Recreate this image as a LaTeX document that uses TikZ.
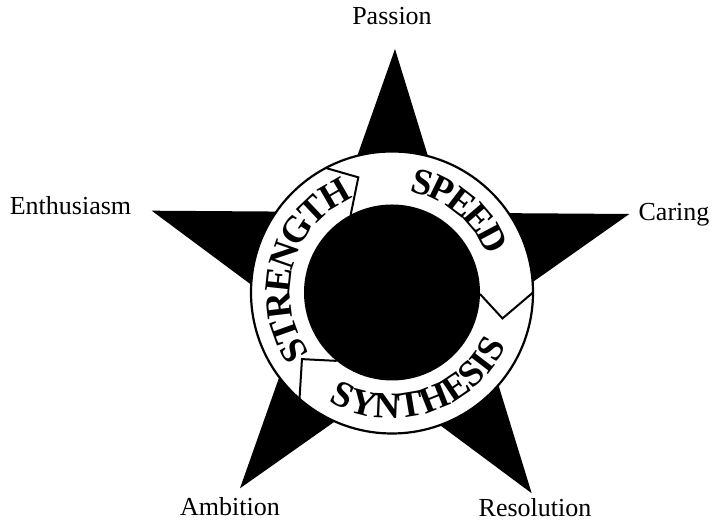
\documentclass[tikz,border=0pt]{standalone}
\usepackage{fontspec}
\setmainfont{Liberation Serif}
\begin{document}
\begin{tikzpicture}[x=1pt,y=1pt,
  lbl/.style={font=\fontsize{26}{30}\selectfont, anchor=base, inner sep=0},
  ringtxt/.style={font=\fontsize{37}{40}\selectfont\bfseries, inner sep=0, anchor=center},
  divider/.style={draw=black, line width=2, line join=miter}]
\fill[white] (0,0) rectangle (715,524);
\useasboundingbox (0,0) rectangle (715,524);
% centre of the ring
\coordinate (C) at (392,231.5);
% star tips
\coordinate (T) at (395,475);
\coordinate (L) at (151.7,313.3);
\coordinate (R) at (629.3,310);
\coordinate (BL) at (240,35.7);
\coordinate (BR) at (531.7,30.7);
% star
\fill[black] (T) -- (intersection of T--BR and L--R) -- (R)
  -- (intersection of R--BL and T--BR) -- (BR)
  -- (intersection of BR--L and R--BL) -- (BL)
  -- (intersection of BL--T and BR--L) -- (L)
  -- (intersection of L--R and BL--T) -- cycle;
% ring
\draw[fill=white, line width=2.2] (C) circle[radius=141];
\fill[black] (C) circle[radius=88];
% dividers (chevrons)
\coordinate (d1o) at ([shift={(118:141)}]C);
\coordinate (d1t) at ([shift={(106.3:120)}]C);
\coordinate (d1i) at ([shift={(118:88)}]C);
\coordinate (d2o) at ([shift={(0:141)}]C);
\coordinate (d2t) at ([shift={(-13.2:113.5)}]C);
\coordinate (d2i) at ([shift={(-1:88)}]C);
\coordinate (d3o) at ([shift={(229:141)}]C);
\coordinate (d3t) at ([shift={(216.5:112)}]C);
\coordinate (d3i) at ([shift={(231:88)}]C);
\draw[divider] (d1o) -- (d1t) -- (d1i);
\draw[divider] (d2o) -- (d2t) -- (d2i);
\draw[divider] (d3o) -- (d3t) -- (d3i);
% ring words
\foreach \ch/\ang [count=\i] in {S/211,T/199.62,R/186.7,E/173.78,N/160.86,G/146.9,T/133.45,H/120}
  \node[ringtxt, rotate=\ang-90] (str\i) at ([shift={(\ang:114)}]C) {\ch};
\foreach \ch/\ang [count=\i] in {S/74.6,P/64.08,E/52.56,E/40.53,D/28}
  \node[ringtxt, rotate=\ang-90] (spd\i) at ([shift={(\ang:114)}]C) {\ch};
\foreach \ch/\ang [count=\i] in {S/244.5,Y/255.37,N/267.65,T/279.46,H/291.75,E/304.04,S/314.44,I/322.48,S/330.52}
  \node[ringtxt, rotate=\ang+90] (syn\i) at ([shift={(\ang:114)}]C) {\ch};
% labels
\node[lbl] (passion) at (392,499) {Passion};
\node[lbl] (enth) at (70.5,309) {Enthusiasm};
\node[lbl] (caring) at (674,303.3) {Caring};
\node[lbl] (ambition) at (230,8) {Ambition};
\node[lbl] (resolution) at (535,7.3) {Resolution};
\end{tikzpicture}
\end{document}
